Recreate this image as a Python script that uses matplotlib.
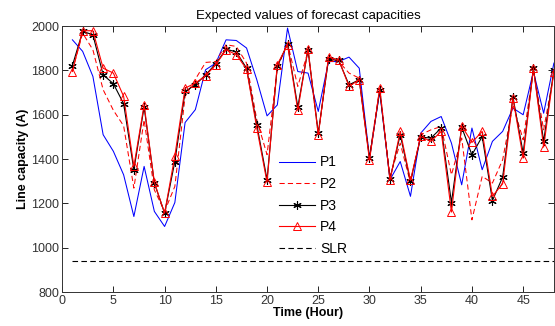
import numpy as np
import matplotlib
matplotlib.use("Agg")
from matplotlib import pyplot as plt

plt.rcParams['font.family'] = ['Liberation Sans', 'DejaVu Sans']

hours = np.arange(1, 49)

p1 = [1938, 1886, 1773, 1510, 1435, 1329, 1141, 1367, 1164, 1096, 1204, 1565,
      1623, 1803, 1833, 1938, 1935, 1901, 1758, 1595, 1644, 1991, 1795, 1788,
      1615, 1840, 1840, 1860, 1810, 1404, 1705, 1307, 1389, 1232, 1517, 1570,
      1592, 1472, 1284, 1540, 1352, 1480, 1525, 1630, 1600, 1795, 1607, 1833]
p2 = [1800, 1968, 1893, 1713, 1620, 1550, 1269, 1577, 1261, 1164, 1277, 1683,
      1760, 1836, 1840, 1916, 1908, 1833, 1577, 1420, 1810, 1923, 1728, 1886,
      1510, 1856, 1840, 1788, 1765, 1412, 1720, 1322, 1472, 1292, 1510, 1532,
      1547, 1329, 1495, 1126, 1322, 1292, 1397, 1645, 1487, 1803, 1532, 1788]
p3 = [1822, 1976, 1961, 1780, 1740, 1650, 1352, 1635, 1292, 1156, 1389, 1705,
      1735, 1780, 1830, 1896, 1883, 1810, 1555, 1307, 1818, 1920, 1635, 1893,
      1517, 1851, 1845, 1735, 1758, 1404, 1710, 1310, 1510, 1299, 1499, 1495,
      1540, 1204, 1544, 1419, 1502, 1213, 1319, 1680, 1427, 1810, 1480, 1803]
p4 = [1795, 1979, 1979, 1810, 1788, 1683, 1367, 1645, 1295, 1156, 1415, 1720,
      1743, 1776, 1826, 1893, 1871, 1806, 1540, 1295, 1826, 1916, 1620, 1898,
      1510, 1860, 1848, 1728, 1758, 1394, 1720, 1304, 1525, 1304, 1502, 1480,
      1525, 1161, 1550, 1475, 1525, 1232, 1289, 1675, 1404, 1810, 1454, 1795]
slr = 940

fig = plt.figure(figsize=(5.55, 3.26), dpi=100)
ax = fig.add_axes([0.112, 0.104, 0.886, 0.816])

# matlab style asterisk marker
star = (6, 2, 0)

ax.plot(hours, p1, color='#0000ff', lw=0.75, label='P1')
ax.plot(hours, p2, color='#ff0000', lw=0.75, ls=(0, (5, 3)), label='P2')
ax.plot(hours, p3, color='black', lw=0.8, marker=star, ms=6, mew=0.8, label='P3')
ax.plot(hours, p4, color='#ff0000', lw=0.8, marker='^', ms=6, mfc='none', mew=0.7, label='P4')
ax.plot([1, 48], [slr, slr], color='black', lw=0.8, ls=(0, (5, 3)), label='SLR')

ax.set_xlim(0, 48)
ax.set_ylim(800, 2000)
ax.set_xticks(np.arange(0, 50, 5))
ax.set_yticks(np.arange(800, 2001, 200))
ax.tick_params(direction='in', top=True, right=True, length=4, width=0.6,
               labelsize=9, labelcolor='#333333', pad=2)
for s in ax.spines.values():
    s.set_linewidth(0.7)
    s.set_color('#333333')

ax.set_title('Expected values of forecast capacities', fontsize=9.5, pad=5)
ax.set_xlabel('Time (Hour)', fontsize=9, fontweight='bold', labelpad=0)
ax.set_ylabel('Line capacity (A)', fontsize=9, fontweight='bold', labelpad=2)

leg = ax.legend(loc='center', bbox_to_anchor=(0.51, 0.325), frameon=False,
                fontsize=10, handlelength=2.6, handletextpad=0.4, labelspacing=0.55)

fig.savefig('out.png', dpi=100)
